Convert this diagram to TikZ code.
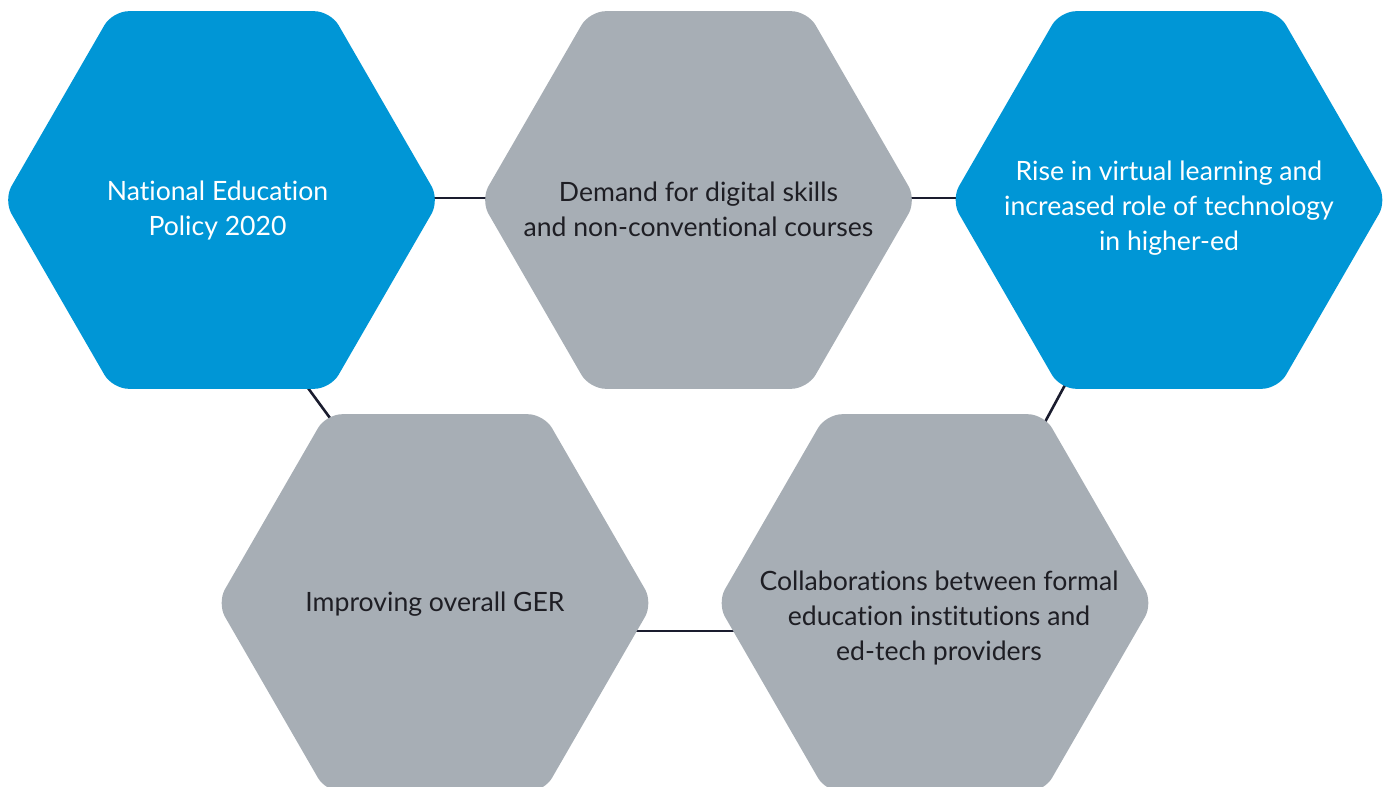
\documentclass[tikz,border=0pt]{standalone}
\usepackage{fontspec}
\setmainfont{Lato}[Ligatures=NoCommon]
\usetikzlibrary{shapes.geometric,backgrounds,calc}
\definecolor{eyblue}{RGB}{0,150,214}
\definecolor{eygray}{RGB}{167,174,181}
\definecolor{linec}{RGB}{26,28,46}
\definecolor{txtdark}{RGB}{30,30,36}
\begin{document}
\begin{tikzpicture}[x=1pt,y=-1pt,
  hexa/.style={regular polygon, regular polygon sides=6, minimum size=436pt,
    inner sep=0pt, rounded corners=16pt, draw=none},
  bluehex/.style={hexa, fill=eyblue},
  grayhex/.style={hexa, fill=eygray},
  txt/.style={align=center, inner sep=0pt, font=\fontsize{26.6}{35}\selectfont},
  wtxt/.style={txt, text=white},
  dtxt/.style={txt, text=txtdark},
  conn/.style={draw=linec, line width=2.6pt}]
\useasboundingbox (0,0) rectangle (1387,787);
\node[bluehex] (h1) at (221.5,200) {};
\node[grayhex] (h2) at (698.5,200) {};
\node[bluehex] (h3) at (1169,200) {};
\node[grayhex] (h4) at (435,603) {};
\node[grayhex] (h5) at (935,603) {};
\node[wtxt] (t1) at ($(h1.center)+(-4,10)$) {National Education\\Policy 2020};
\node[dtxt] (t2) at ($(h2.center)+(0,9)$) {Demand for digital skills\\and non-conventional courses};
\node[wtxt] (t3) at ($(h3.center)+(0,8)$) {Rise in virtual learning and\\increased role of technology\\in higher-ed};
\node[dtxt] (t4) at ($(h4.center)+(0,1)$) {Improving overall GER};
\node[dtxt] (t5) at ($(h5.center)+(4,15)$) {Collaborations between formal\\education institutions and\\ed-tech providers};
\begin{scope}[on background layer]
\draw[conn] ($(h1.center)+(0,-2)$) -- ($(h2.center)+(0,-2)$);
\draw[conn] ($(h2.center)+(0,-2)$) -- ($(h3.center)+(0,-2)$);
\draw[conn] ($(h1.center)+(75.5,173)$) -- ($(h4.center)+(-94,-170)$);
\draw[conn] ($(h3.center)+(-94,166.5)$) -- ($(h5.center)+(100,-162.5)$);
\draw[conn] ($(h4.center)+(150,28)$) -- ($(h5.center)+(-150,28)$);
\end{scope}
\end{tikzpicture}
\end{document}
